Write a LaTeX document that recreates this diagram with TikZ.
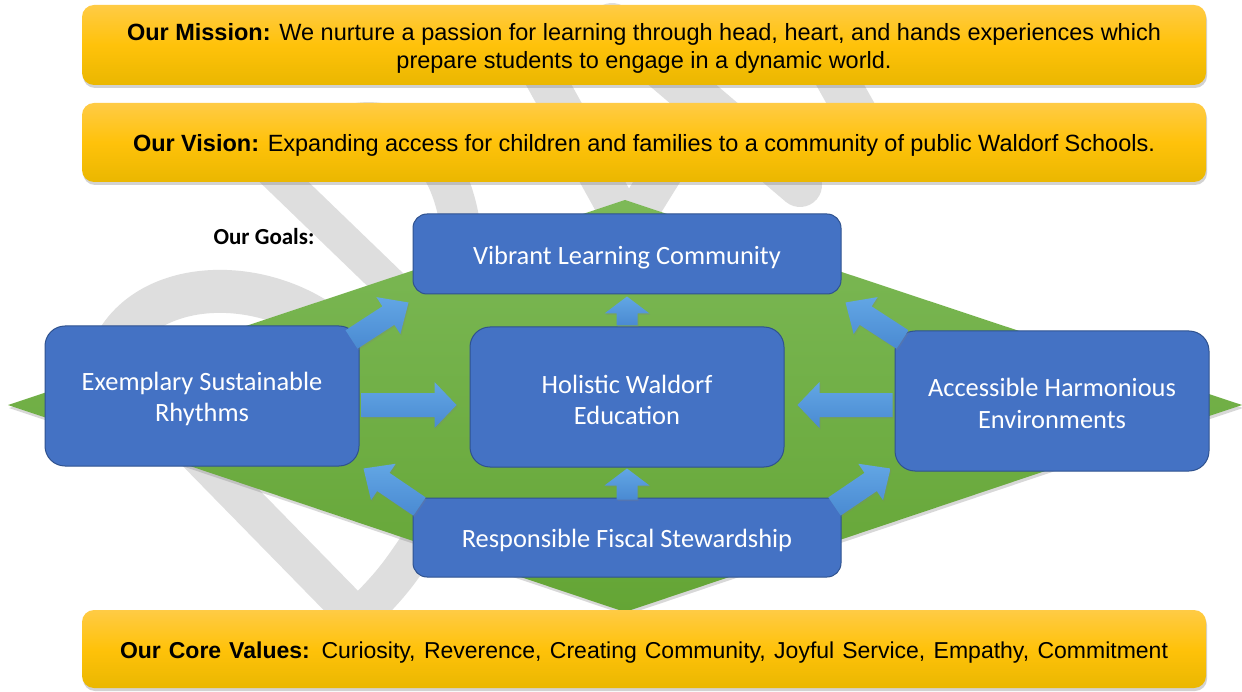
\documentclass[tikz,border=0pt]{standalone}
\usepackage{fontspec}
\setmainfont{Liberation Sans}
\newfontfamily\calibri{Carlito}
\usetikzlibrary{calc,shadows}

\definecolor{goalblue}{HTML}{4472C4}
\definecolor{goalrim}{HTML}{2F528F}
\definecolor{arrowtop}{HTML}{62A6E4}
\definecolor{arrowbot}{HTML}{4A8AD2}
\definecolor{bannertop}{HTML}{FFCB45}
\definecolor{bannermid}{HTML}{FFC20A}
\definecolor{bannerbot}{HTML}{EAB700}
\definecolor{fieldtop}{HTML}{7DB957}
\definecolor{fieldbot}{HTML}{64A535}
\definecolor{markgray}{HTML}{DEDEDE}

\tikzset{
  banner/.style={rounded corners=12pt, top color=bannertop, bottom color=bannerbot,
    middle color=bannermid, draw=none, minimum width=1124pt, inner sep=0pt,
    drop shadow={shadow xshift=1pt, shadow yshift=-3pt, opacity=0.35}},
  bannertext/.style={align=center, text=black, inner sep=0pt,
    font=\fontsize{23.5}{28}\selectfont},
  goalbox/.style={rounded corners=#1, fill=goalblue, draw=goalrim, line width=1pt,
    inner sep=0pt},
  goalbox/.default=16pt,
  goaltext/.style={text=white, align=center, inner sep=0pt,
    font=\calibri\fontsize{26.4}{31.5}\selectfont},
  arrowfill/.style={top color=arrowtop, bottom color=arrowbot,
    drop shadow={shadow xshift=1pt, shadow yshift=-1.5pt, opacity=0.25}},
  watermark/.style={draw=markgray, line width=#1},
}

% block arrow: #1 name, #2 tail, #3 tip, #4 half shaft, #5 half head, #6 head length
\newcommand{\blockarrow}[6]{%
  \coordinate (#1b) at ($(#3)!#6!(#2)$);
  \shade[arrowfill] ($(#2)!#4!90:(#3)$) -- ($(#1b)!#4!90:(#3)$) -- ($(#1b)!#5!90:(#3)$)
    -- (#3) -- ($(#1b)!#5!-90:(#3)$) -- ($(#1b)!#4!-90:(#3)$) -- ($(#2)!#4!-90:(#3)$) -- cycle;
}

\begin{document}
\begin{tikzpicture}[x=1pt, y=-1pt]
\useasboundingbox (0,0) rectangle (1242,692);
\fill[white] (0,0) rectangle (1242,692);

% faint lettering in the background
\draw[watermark=43pt] (115,345) .. controls (150,280) and (255,275) .. (325,325);
\draw[watermark=34pt] (225,125) -- (425,318);
\draw[watermark=40pt] (310,150) .. controls (350,100) and (450,110) .. (462,240);
\draw[watermark=40pt, line join=miter] (535,60) -- (628,228) -- (695,120);
\draw[watermark=44pt, line cap=round] (612,25) -- (800,185);
\draw[watermark=42pt] (815,40) -- (885,165);
\draw[watermark=38pt, line join=miter] (130,385) -- (358,618) .. controls (395,580) .. (435,520);

% green field
\shade[top color=fieldtop, bottom color=fieldbot,
  drop shadow={shadow xshift=1pt, shadow yshift=-3pt, opacity=0.3}]
  (8,405) -- (625,200) -- (1242,405) -- (625,612) -- cycle;
\coordinate (dc) at (625,405);

% banners
\node[banner, minimum height=80pt] (mission) at (644,45) {};
\node[bannertext] (missiontext) at ($(mission.center)+(0,3)$)
  {\makebox[1034pt][s]{\textbf{Our Mission:} We nurture a passion for learning through head, heart, and hands experiences which}\\
   prepare students to engage in a dynamic world.};
\node[banner, minimum height=79pt] (vision) at (644,142.5) {};
\node[bannertext] (visiontext) at ($(vision.center)+(0,3)$)
  {\makebox[1022pt][s]{\textbf{Our Vision:} Expanding access for children and families to a community of public Waldorf Schools.}};
\node[banner, minimum height=78pt] (values) at (644,649) {};
\node[bannertext, font=\fontsize{23}{28}\selectfont] (valuestext) at ($(values.center)+(0,3.5)$)
  {\makebox[1048pt][s]{\textbf{Our Core Values:} Curiosity, Reverence, Creating Community, Joyful Service, Empathy, Commitment}};

\node[font=\calibri\bfseries\fontsize{23}{27}\selectfont, inner sep=0pt] (goals) at (264,237) {Our Goals:};

% goals
\node[goalbox=14pt, minimum width=428pt, minimum height=80pt] (vb) at (627,254) {};
\node[goaltext] (vbt) at ($(vb.center)+(0,3.5)$) {Vibrant Learning Community};
\node[goalbox=20pt, minimum width=314pt, minimum height=140pt] (ho) at (627,397) {};
\node[goaltext] (hot) at ($(ho.center)+(0,3)$) {Holistic Waldorf\\Education};
\node[goalbox=20pt, minimum width=314pt, minimum height=140pt] (ex) at (202,396) {};
\node[goaltext] (ext) at ($(ex.center)+(0,3)$) {Exemplary Sustainable\\Rhythms};
\node[goalbox=20pt, minimum width=314pt, minimum height=140pt] (ac) at (1052,401) {};
\node[goaltext] (act) at ($(ac.center)+(0,2.5)$) {Accessible Harmonious\\Environments};
\node[goalbox=14pt, minimum width=428pt, minimum height=79pt] (rf) at (627,537.5) {};
\node[goaltext] (rft) at ($(rf.center)+(0,3)$) {Responsible Fiscal Stewardship};

% arrows between goals
\coordinate (a1t) at ($(ex.east |- dc)+(2,0)$);
\coordinate (a1p) at ($(ho.west |- dc)+(-13,0)$);
\blockarrow{a1}{a1t}{a1p}{12pt}{23pt}{22pt}
\coordinate (a2t) at ($(ac.west |- dc)+(-2,0)$);
\coordinate (a2p) at ($(ho.east |- dc)+(13,0)$);
\blockarrow{a2}{a2t}{a2p}{12pt}{23pt}{22pt}
\coordinate (a3t) at ($(ho.north)+(0,-1)$);
\coordinate (a3p) at ($(vb.south)+(0,2)$);
\blockarrow{a3}{a3t}{a3p}{10.5pt}{22.5pt}{17pt}
\coordinate (a4t) at ($(rf.north)+(0,2)$);
\coordinate (a4p) at ($(ho.south)+(0,1)$);
\blockarrow{a4}{a4t}{a4p}{10.5pt}{22.5pt}{17pt}
\coordinate (a5t) at ($(ex.north east)+(-8,14)$);
\coordinate (a5p) at ($(vb.south west)+(-4,8)$);
\blockarrow{a5}{a5t}{a5p}{11pt}{22pt}{24pt}
\coordinate (a6t) at ($(ac.north west)+(8,9)$);
\coordinate (a6p) at ($(vb.south east)+(4,8)$);
\blockarrow{a6}{a6t}{a6p}{11pt}{22pt}{24pt}
\coordinate (a7t) at ($(rf.north west)+(7,9)$);
\coordinate (a7p) at ($(ex.south east)+(4,2)$);
\blockarrow{a7}{a7t}{a7p}{11pt}{22pt}{24pt}
\coordinate (a8t) at ($(rf.north east)+(-7,9)$);
\coordinate (a8p) at ($(ac.south west)+(-4,-3)$);
\blockarrow{a8}{a8t}{a8p}{11pt}{22pt}{24pt}
\end{tikzpicture}
\end{document}
